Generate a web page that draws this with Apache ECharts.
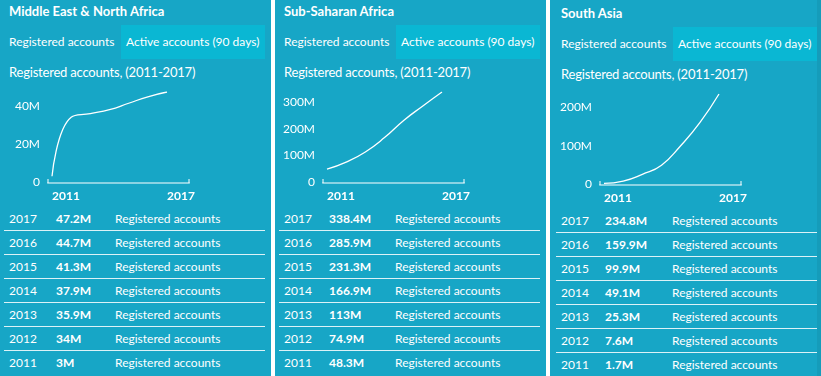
<!DOCTYPE html>
<html>
<head>
<meta charset="utf-8">
<script src="https://cdn.jsdelivr.net/npm/echarts@6/dist/echarts.min.js"></script>
<style>
    body { margin: 0; width: 821px; height: 376px; background: #fff; overflow: hidden; font-family: Lato, sans-serif; color: #fff; }
    .panel { position: absolute; top: 0; width: 271px; height: 376px; background: #17a6c6; overflow: hidden; }
    .inner { position: absolute; left: 0; top: 0; width: 271px; height: 376px; }
    .title { position: absolute; left: 9px; top: 2px; font-weight: bold; font-size: 13px; line-height: 18px; white-space: nowrap; }
    .tab { position: absolute; top: 25px; height: 34px; line-height: 34px; font-size: 12px; white-space: nowrap; }
    .tab1 { left: 9px; }
    .tab2 { left: 121px; width: 144px; padding-left: 5px; box-sizing: border-box; background: #0ab7d3; }
    .sub { position: absolute; left: 9px; top: 63px; font-size: 13px; letter-spacing: -0.2px; line-height: 18px; white-space: nowrap; }
    .chart { position: absolute; left: 0; top: 80px; width: 271px; height: 125px; }
    .table { position: absolute; left: 4px; top: 207px; width: 261px; }
    .row { position: relative; height: 24px; line-height: 23px; font-size: 12px; border-bottom: 1px solid rgba(255,255,255,0.85); box-sizing: border-box; }
    .row:last-child { border-bottom: none; }
    .row span { position: absolute; top: 0; white-space: nowrap; }
    .row .v { font-weight: bold; }
    .strip { position: absolute; left: 817px; top: 0; width: 4px; height: 376px; background: rgba(0,0,0,0.06); }
</style>
</head>
<body>
<div id="p0" class="panel" style="left:0px"></div>
<div id="p1" class="panel" style="left:275px"></div>
<div id="p2" class="panel" style="left:550px"></div>
<div class="strip"></div>
<script>
    // 数据
    var years = ['2011', '2012', '2013', '2014', '2015', '2016', '2017'];
    var regions = ['Middle East & North Africa', 'Sub-Saharan Africa', 'South Asia'];
    var menaValues = [3, 34, 35.9, 37.9, 41.3, 44.7, 47.2];
    var ssaValues = [48.3, 74.9, 113, 166.9, 231.3, 285.9, 338.4];
    var saValues = [1.7, 7.6, 25.3, 49.1, 99.9, 159.9, 234.8];
    var tickSteps = [20, 100, 100];
    var tabNames = ['Registered accounts', 'Active accounts (90 days)'];
    var subtitle = 'Registered accounts, (2011-2017)';
    var rowLabel = 'Registered accounts';

    var allValues = [menaValues, ssaValues, saValues];

    // 每个面板的排版
    var layout = [
        { dx: 0, dy: 0, valueCol: 52, labelCol: 111 },
        { dx: 0, dy: 0, valueCol: 50, labelCol: 116 },
        { dx: 2, dy: 2, valueCol: 49, labelCol: 116 }
    ];

    regions.forEach(function (name, i) {
        var panel = document.getElementById('p' + i);
        var lay = layout[i];
        var values = allValues[i];

        var inner = document.createElement('div');
        inner.className = 'inner';
        inner.style.left = lay.dx + 'px';
        inner.style.top = lay.dy + 'px';
        panel.appendChild(inner);

        var html = '';
        html += '<div class="title">' + name.replace('&', '&amp;') + '</div>';
        html += '<div class="tab tab1">' + tabNames[0] + '</div>';
        html += '<div class="tab tab2">' + tabNames[1] + '</div>';
        html += '<div class="sub">' + subtitle + '</div>';
        html += '<div class="chart" id="chart' + i + '"></div>';
        html += '<div class="table">';
        for (var k = years.length - 1; k >= 0; k--) {
            html += '<div class="row">' +
                '<span style="left:5px">' + years[k] + '</span>' +
                '<span class="v" style="left:' + lay.valueCol + 'px">' + values[k] + 'M</span>' +
                '<span style="left:' + lay.labelCol + 'px">' + rowLabel + '</span>' +
                '</div>';
        }
        html += '</div>';
        inner.innerHTML = html;

        var myChart = echarts.init(document.getElementById('chart' + i));
        var option = {
            animation: false,
            grid: [
                { left: 52, width: 115, top: 12, height: 90, containLabel: false, outerBoundsMode: 'none' },
                // 底部括号形状的轴线
                { left: 48, width: 141, top: 12, height: 91, containLabel: false, outerBoundsMode: 'none' }
            ],
            xAxis: [
                {
                    gridIndex: 0,
                    type: 'category',
                    data: years,
                    boundaryGap: false,
                    axisLine: { show: false },
                    axisTick: { show: false },
                    axisLabel: {
                        color: '#fff',
                        fontFamily: 'Lato',
                        fontSize: 12,
                        fontWeight: 'bold',
                        align: 'left',
                        margin: 8,
                        interval: function (idx) { return idx === 0 || idx === years.length - 1; }
                    },
                    splitLine: { show: false }
                },
                {
                    gridIndex: 1,
                    type: 'category',
                    data: ['', ''],
                    boundaryGap: false,
                    axisLine: { lineStyle: { color: 'rgba(255,255,255,0.5)', width: 2 } },
                    axisTick: { inside: true, length: 4, lineStyle: { color: 'rgba(255,255,255,0.5)', width: 2 } },
                    axisLabel: { show: false }
                }
            ],
            yAxis: [
                {
                    gridIndex: 0,
                    type: 'value',
                    min: 0,
                    max: 'dataMax',
                    interval: tickSteps[i],
                    axisLine: { show: false },
                    axisTick: { show: false },
                    splitLine: { show: false },
                    axisLabel: {
                        color: '#fff',
                        fontFamily: 'Lato',
                        fontSize: 12,
                        margin: 12,
                        showMaxLabel: false,
                        formatter: function (v) { return v === 0 ? '0' : v + 'M'; }
                    }
                },
                { gridIndex: 1, type: 'value', min: 0, max: 1, show: false }
            ],
            series: [{
                type: 'line',
                xAxisIndex: 0,
                yAxisIndex: 0,
                data: values,
                smooth: 0.5,
                showSymbol: false,
                lineStyle: { color: '#fff', width: 1.3 }
            }]
        };
        myChart.setOption(option);
    });
</script>
</body>
</html>
